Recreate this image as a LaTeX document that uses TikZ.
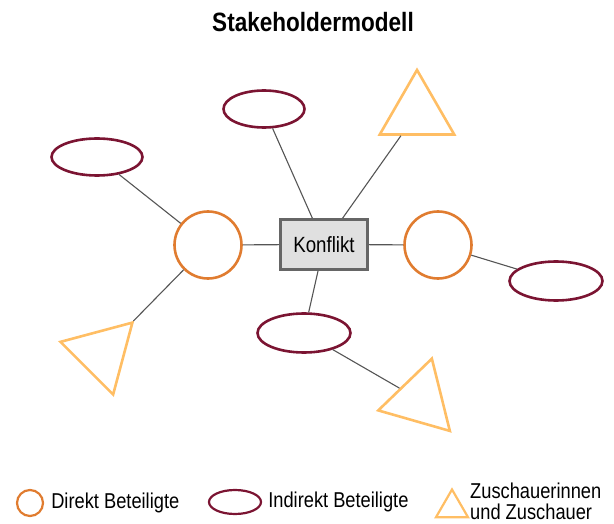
\documentclass[tikz,border=0pt]{standalone}
\usepackage{fontspec}
\setmainfont{Liberation Sans}[FakeStretch=0.85]
\usetikzlibrary{positioning}
\usetikzlibrary{shapes.geometric}
\definecolor{direkt}{HTML}{E07C30}
\definecolor{indirekt}{HTML}{7B1432}
\definecolor{zuschauer}{HTML}{FFBE64}
\definecolor{linegrey}{HTML}{555555}
\definecolor{boxgrey}{HTML}{666666}
\definecolor{boxfill}{HTML}{E0E0E0}

\begin{document}
\begin{tikzpicture}[x=1pt,y=-1pt,
                    conflict/.style={rectangle,
                                     draw=boxgrey,fill=boxfill,
                                     line width=2.6pt,
                                     minimum width=87pt,minimum height=50pt,
                                     font=\fontsize{22}{26}\selectfont
                                    },
                    direct/.style={circle,draw=direkt,line width=2.6pt,
                                   inner sep=0,minimum size=67pt},
                    indirect/.style={ellipse,draw=indirekt,line width=2.6pt,
                                     inner sep=0},
                    audience/.style={regular polygon,regular polygon sides=3,
                                     draw=zuschauer,line width=2.6pt,
                                     inner sep=0,minimum size=86pt},
                    link/.style={draw=linegrey,line width=1.1pt},
                    legendtext/.style={font=\fontsize{21.5}{21}\selectfont,
                                       inner sep=0,align=left}
                   ]
\useasboundingbox (0,0) rectangle (614,524);

\node[font=\bfseries\fontsize{26.5}{30}\selectfont] (title) at (313,22) {Stakeholdermodell};

% Mitte
\node[conflict] (K) at (324,244.5) {Konflikt};
\node[direct] (DL) at (208,245) {};
\node[direct] (DR) at (438,245) {};

% Indirekt Beteiligte
\node[indirect,minimum width=81pt,minimum height=37pt] (IT) at (264,109) {};
\node[indirect,minimum width=91pt,minimum height=37pt] (IL) at (97,157) {};
\node[indirect,minimum width=93pt,minimum height=39pt] (IR) at (556,281) {};
\node[indirect,minimum width=93pt,minimum height=39pt] (IB) at (304,333) {};

% Zuschauer
\node[audience] (ZT) at (417,113) {};
\node[audience,shape border rotate=-45] (ZL) at (102,353) {};
\node[audience,shape border rotate=-16] (ZB) at (420,400) {};

\draw[link] (IT) -- (K);
\draw[link] (ZT) -- (K);
\draw[link] (DL) -- (K);
\draw[link] (K) -- (DR);
\draw[link] (K) -- (IB);
\draw[link] (IL) -- (DL);
\draw[link] (ZL) -- (DL);
\draw[link] (DR) -- (IR);
\draw[link] (IB) -- (ZB);

% Legende
\node[direct,minimum size=26pt,line width=2.2pt] (LD) at (30,503) {};
\node[legendtext,right=7pt of LD] {Direkt Beteiligte};
\node[indirect,minimum width=52pt,minimum height=24pt,line width=2.2pt] (LI) at (235,502) {};
\node[legendtext,right=6pt of LI] {Indirekt Beteiligte};
\node[audience,minimum size=37pt,line width=2.2pt] (LZ) at (452,508) {};
\node[legendtext,anchor=west] at (470,501) {Zuschauerinnen\\und Zuschauer};
\end{tikzpicture}
\end{document}
